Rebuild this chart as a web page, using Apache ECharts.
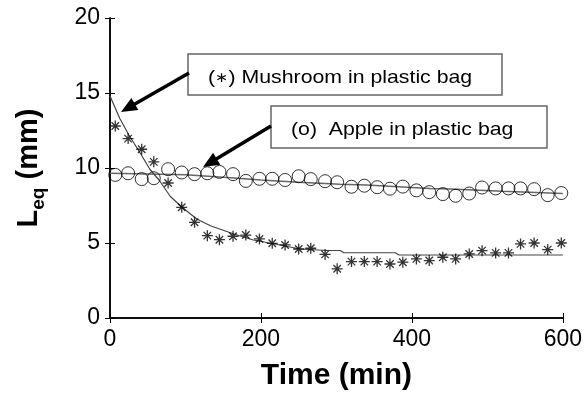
<!DOCTYPE html>
<html>
<head>
<meta charset="utf-8">
<script src="https://cdn.jsdelivr.net/npm/echarts@6/dist/echarts.min.js"></script>
<style>
html,body{margin:0;padding:0;background:#fff;}
#c{width:585px;height:396px;}
</style>
</head>
<body>
<div id="c"></div>
<script>
// Sample times (min)
const times = [7,24,42,58,77,95,112,129,145,163,180,198,215,232,250,266,285,301,320,337,354,371,388,406,423,441,458,476,493,511,528,544,562,580,598];
// Measured L_eq (mm)
const mushroom = [12.8,11.96,11.25,10.41,9.0,7.38,6.38,5.49,5.22,5.45,5.53,5.27,4.98,4.87,4.6,4.65,4.24,3.28,3.76,3.76,3.76,3.6,3.72,3.94,3.83,4.05,3.94,4.27,4.49,4.34,4.34,4.94,5.0,4.56,5.0];
const apple = [9.54,9.65,9.26,9.32,9.92,9.7,9.59,9.65,9.74,9.59,9.14,9.28,9.28,9.2,9.45,9.26,9.12,9.05,8.75,8.82,8.72,8.62,8.76,8.51,8.39,8.26,8.15,8.3,8.7,8.64,8.64,8.64,8.59,8.19,8.33];
// Model curves
const mushroomFitT = [0,13,25,40,53,65,80,93,105,115,133,150,164,190,217,252,287,305,310,378,383,600];
const mushroomFitL = [14.8,13.3,12.2,11.0,9.9,9.2,8.1,7.5,7.0,6.6,6.15,5.85,5.6,5.2,4.95,4.6,4.5,4.5,4.35,4.35,4.2,4.2];
const appleFitT = [0,50,100,160,200,250,305,340,424,451,520,600];
const appleFitL = [9.65,9.6,9.55,9.35,9.2,9.05,8.92,8.86,8.64,8.6,8.45,8.3];
// Axis ticks
const xTicks = [0,200,400,600];
const yTicks = [0,5,10,15,20];

const zip = (a,b) => a.map((v,i) => [v,b[i]]);
const FONT = 'Arial, "Liberation Sans", sans-serif';

const chart = echarts.init(document.getElementById('c'), null, {renderer:'canvas'});

const axisLine = {show:true, lineStyle:{color:'#000', width:1.5}};
const tickIn = {show:true, inside:true, length:5, lineStyle:{color:'#000', width:1}};

function arrow(x1,y1,x2,y2){
  const dx=x2-x1, dy=y2-y1, L=Math.hypot(dx,dy), ux=dx/L, uy=dy/L;
  const hl=16, hw=7;
  const bx=x2-ux*hl, by=y2-uy*hl;
  return [
    {type:'line', shape:{x1:x1,y1:y1,x2:bx+ux*2,y2:by+uy*2}, style:{stroke:'#000', lineWidth:3.5}, z:100},
    {type:'polygon', shape:{points:[[x2,y2],[bx-uy*hw,by+ux*hw],[bx+uy*hw,by-ux*hw]]}, style:{fill:'#000'}, z:100}
  ];
}

const option = {
  animation:false,
  backgroundColor:'#fff',
  grid:{left:110, right:22, top:18, bottom:77, containLabel:false},
  xAxis:[
    {type:'value', position:'bottom', min:0, max:600, interval:200,
     axisLine:axisLine, axisTick:tickIn, splitLine:{show:false},
     axisLabel:{color:'#000', fontSize:23, fontFamily:FONT, margin:10,
       formatter:v => xTicks.includes(v) ? String(v) : ''},
     name:'Time (min)', nameLocation:'middle', nameGap:43,
     nameTextStyle:{color:'#000', fontSize:30, fontWeight:'bold', fontFamily:FONT}},
    {type:'value', position:'top', min:0, max:600, interval:200,
     axisLine:axisLine, axisTick:tickIn, axisLabel:{show:false}, splitLine:{show:false}}
  ],
  yAxis:[
    {type:'value', position:'left', min:0, max:20, interval:5,
     axisLine:axisLine, axisTick:tickIn, splitLine:{show:false},
     axisLabel:{color:'#000', fontSize:23, fontFamily:FONT, margin:10,
       formatter:v => yTicks.includes(v) ? String(v) : ''},
     name:'{a|L}{b|eq}{a| (mm)}', nameLocation:'middle', nameGap:62, nameRotate:90,
     nameTextStyle:{color:'#000', fontFamily:FONT,
       rich:{
         a:{fontSize:29, fontWeight:'bold', fontFamily:FONT, color:'#000', lineHeight:34, verticalAlign:'top'},
         b:{fontSize:19, fontWeight:'bold', fontFamily:FONT, color:'#000', lineHeight:34, verticalAlign:'bottom'}
       }}},
    {type:'value', position:'right', min:0, max:20, interval:5,
     axisLine:axisLine, axisTick:tickIn, axisLabel:{show:false}, splitLine:{show:false}}
  ],
  series:[
    {type:'line', data:zip(appleFitT, appleFitL), showSymbol:false, symbol:'none',
     lineStyle:{color:'#666', width:1.5}, z:2},
    {type:'line', data:zip(mushroomFitT, mushroomFitL), showSymbol:false, symbol:'none',
     lineStyle:{color:'#444', width:1.2}, z:2},
    {type:'scatter', data:zip(times, apple), symbol:'circle', symbolSize:13,
     itemStyle:{color:'rgba(0,0,0,0)', borderColor:'#000', borderWidth:1}, z:3},
    {type:'scatter', data:zip(times, mushroom),
     symbol:'path://M5,0L5,10M0,5L10,5M1.6,1.6L8.4,8.4M1.6,8.4L8.4,1.6', symbolSize:11,
     itemStyle:{color:'rgba(0,0,0,0)', borderColor:'#000', borderWidth:1.3}, z:3}
  ],
  graphic:[
    {type:'rect', shape:{x:188, y:54, width:314, height:41}, style:{fill:'#fff', stroke:'#666', lineWidth:1.5}, z:90},
    {type:'text', x:208, y:78, scaleX:1.12, z:91,
     style:{text:'({s|\u2217}) Mushroom in plastic bag', fontSize:19, fontFamily:FONT, fill:'#000', textVerticalAlign:'middle', textAlign:'left',
       rich:{s:{fontSize:14, fontFamily:FONT, fill:'#000'}}}},
    {type:'rect', shape:{x:271, y:106, width:276, height:42}, style:{fill:'#fff', stroke:'#666', lineWidth:1.5}, z:90},
    {type:'text', x:291, y:130, scaleX:1.12, z:91,
     style:{text:'(o)  Apple in plastic bag', fontSize:19, fontFamily:FONT, fill:'#000', textVerticalAlign:'middle', textAlign:'left'}},
    ...arrow(189,73,121,112),
    ...arrow(271,126,203,167)
  ]
};
chart.setOption(option);
</script>
</body>
</html>
